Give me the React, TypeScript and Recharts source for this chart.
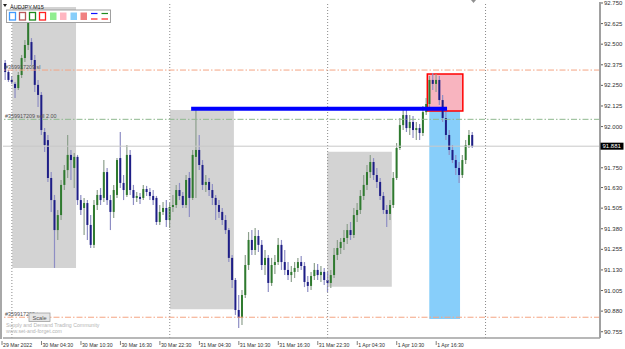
import React from 'react';
import { ComposedChart, Bar, XAxis, YAxis, ReferenceArea, ReferenceLine } from 'recharts';

// AUDJPY M15 (aggregated to 30-minute candles), price values
const opens = [92.343,92.386,92.331,92.283,92.259,92.234,92.313,92.416,92.495,92.513,92.404,92.253,92.192,91.967,91.918,91.688,91.554,91.372,91.463,91.646,91.736,91.828,91.749,91.816,91.554,91.506,91.536,91.403,91.282,91.524,91.585,91.567,91.724,91.554,91.482,91.585,91.809,91.658,91.585,91.828,91.615,91.567,91.573,91.567,91.621,91.603,91.579,91.567,91.421,91.482,91.506,91.433,91.512,91.524,91.615,91.579,91.524,91.688,91.567,91.816,91.858,91.767,91.646,91.664,91.615,91.567,91.524,91.482,91.433,91.372,91.203,91.069,90.887,90.839,90.978,91.160,91.312,91.251,91.336,91.282,91.160,91.203,91.051,91.160,91.178,91.282,91.178,91.130,91.099,91.118,91.142,91.178,91.154,91.057,91.033,91.093,91.130,91.099,91.118,91.069,91.051,91.099,91.221,91.263,91.300,91.324,91.372,91.342,91.463,91.494,91.579,91.646,91.724,91.785,91.706,91.664,91.579,91.494,91.470,91.524,91.688,91.870,92.009,92.070,91.991,92.028,91.979,91.991,91.961,92.088,92.137,92.283,92.259,92.283,92.161,92.052,91.949,91.858,91.797,91.749,91.706,91.797,91.888,91.949];
const highs = [92.416,92.404,92.343,92.307,92.271,92.331,92.435,92.525,92.659,92.537,92.435,92.283,92.210,91.991,91.949,91.724,91.585,91.494,91.676,91.767,91.949,91.858,91.840,91.828,91.585,91.567,91.554,91.463,91.554,91.615,91.627,91.797,91.749,91.585,91.646,91.809,91.967,91.706,91.888,91.858,91.646,91.603,91.597,91.646,91.640,91.627,91.615,91.579,91.524,91.542,91.554,91.536,91.585,91.646,91.658,91.603,91.706,91.724,91.858,92.101,91.949,91.797,91.706,91.688,91.652,91.585,91.554,91.506,91.463,91.385,91.221,91.081,90.978,91.008,91.221,91.360,91.372,91.385,91.372,91.312,91.251,91.221,91.203,91.221,91.324,91.312,91.251,91.178,91.154,91.178,91.203,91.215,91.178,91.093,91.118,91.172,91.166,91.154,91.142,91.118,91.130,91.263,91.312,91.324,91.372,91.409,91.421,91.506,91.536,91.615,91.706,91.767,91.828,91.809,91.749,91.688,91.603,91.524,91.554,91.724,91.900,92.052,92.119,92.113,92.070,92.064,92.028,92.015,92.125,92.173,92.307,92.325,92.319,92.307,92.192,92.088,91.979,91.888,91.828,91.785,91.828,91.918,91.979,91.967];
const lows = [92.313,92.283,92.271,92.259,92.173,92.222,92.295,92.392,92.465,92.374,92.210,92.119,91.949,91.846,91.664,91.482,91.142,91.312,91.433,91.615,91.688,91.676,91.627,91.524,91.463,91.342,91.312,91.263,91.263,91.494,91.524,91.542,91.524,91.372,91.445,91.567,91.627,91.554,91.573,91.585,91.524,91.542,91.530,91.554,91.579,91.554,91.524,91.403,91.403,91.463,91.391,91.385,91.482,91.506,91.554,91.506,91.506,91.451,91.554,91.567,91.736,91.615,91.603,91.579,91.524,91.433,91.445,91.403,91.348,91.178,91.020,90.857,90.778,90.796,90.960,91.130,91.221,91.221,91.239,91.130,91.099,90.996,91.033,91.105,91.160,91.130,91.099,91.069,91.057,91.081,91.118,91.130,91.026,90.996,91.008,91.069,91.069,91.057,91.039,90.996,91.020,91.081,91.190,91.227,91.251,91.288,91.312,91.324,91.421,91.470,91.554,91.615,91.688,91.676,91.627,91.554,91.470,91.391,91.433,91.506,91.676,91.858,91.979,91.967,91.949,91.930,91.918,91.918,91.943,92.070,92.113,92.222,92.210,92.131,92.028,91.918,91.828,91.779,91.706,91.658,91.688,91.773,91.870,91.870];
const closes = [92.392,92.331,92.283,92.271,92.234,92.313,92.416,92.495,92.635,92.404,92.253,92.192,91.979,91.888,91.688,91.554,91.372,91.463,91.646,91.736,91.828,91.797,91.816,91.554,91.494,91.536,91.403,91.282,91.524,91.585,91.554,91.724,91.554,91.482,91.615,91.797,91.658,91.615,91.828,91.615,91.567,91.579,91.561,91.621,91.603,91.579,91.554,91.421,91.482,91.506,91.433,91.512,91.524,91.615,91.579,91.524,91.676,91.567,91.828,91.858,91.767,91.646,91.664,91.615,91.567,91.524,91.482,91.433,91.372,91.203,91.069,90.887,90.839,90.978,91.160,91.312,91.251,91.336,91.282,91.160,91.203,91.051,91.160,91.178,91.282,91.178,91.130,91.099,91.118,91.142,91.178,91.154,91.057,91.033,91.093,91.130,91.099,91.118,91.069,91.051,91.099,91.221,91.263,91.300,91.324,91.372,91.342,91.463,91.494,91.579,91.646,91.724,91.785,91.706,91.664,91.579,91.494,91.470,91.524,91.688,91.870,92.009,92.070,91.991,92.028,91.979,91.991,91.961,92.088,92.137,92.283,92.259,92.283,92.161,92.052,91.949,91.858,91.797,91.749,91.706,91.797,91.888,91.949,91.881];

const xTickIdx = [0, 12, 24, 36, 48, 60, 72, 84, 96, 108, 120, 132];
const xTickLabels = ['29 Mar 2022', '30 Mar 04:30', '30 Mar 10:30', '30 Mar 16:30', '30 Mar 22:30', '31 Mar 04:30', '31 Mar 10:30', '31 Mar 16:30', '31 Mar 22:30', '1 Apr 04:30', '1 Apr 10:30', '1 Apr 16:30'];
const yTicks = [92.75, 92.625, 92.5, 92.375, 92.25, 92.125, 92.0, 91.881, 91.75, 91.63, 91.505, 91.38, 91.255, 91.13, 91.005, 90.88, 90.755];
const currentPrice = 91.881;
const daySeparators = [3, 51, 99, 147];

// supply / demand zones
const zoneX1 = [3.13, 51.08, 98.9];
const zoneX2 = [22.5, 70.5, 118.5];
const zoneTop = [92.726, 92.101, 91.848];
const zoneBottom = [91.142, 90.891, 91.028];

// trade objects
const tradeLevels = { sl: 92.343, entry: 92.044, tp: 90.843 };
const levelTexts = ['#359917209 sl', '#359917209 sell 2.00', '#359917209 tp'];
const redBox = { x1: 129.3, x2: 140.1, y1: 92.094, y2: 92.319 };
const blueBox = { x1: 129.9, x2: 139.25, y1: 90.832, y2: 92.094 };
const blueLine = { x1: 57.5, x2: 135.3, y: 92.108 };

const data = opens.map((o, i) => ({ i, o, h: highs[i], l: lows[i], c: closes[i], range: [lows[i], highs[i]] }));

const FONT = 'Liberation Sans, Arial, sans-serif';

const Candle = (props: any) => {
  const { x, y, width, height, payload } = props;
  if (!payload) return null;
  const { o, h, l, c } = payload;
  const top = Math.min(y, y + height);
  const bot = Math.max(y, y + height);
  const span = h - l || 1;
  const py = (v: number) => top + ((h - v) / span) * (bot - top);
  const cx = x + width / 2;
  const up = c >= o;
  const bt = py(Math.max(o, c));
  const bb = py(Math.min(o, c));
  return (
    <g>
      <line x1={cx} x2={cx} y1={top} y2={bot} stroke={up ? '#8da08d' : '#8e8ec4'} strokeWidth={1.2} />
      <rect x={cx - 1} y={bt} width={2} height={Math.max(1, bb - bt)} fill={up ? '#2f7a2f' : '#1e1e86'} />
    </g>
  );
};

const XTick = (props: any) => {
  const { x, y, payload } = props;
  const k = xTickIdx.indexOf(payload.value);
  return (
    <g>
      <line x1={x} x2={x} y1={y - 3} y2={y + 1} stroke="#808080" strokeWidth={1} />
      <text x={x + 1} y={y + 3.2} fontSize={5.2} fontFamily={FONT} fill="#303030">{xTickLabels[k]}</text>
    </g>
  );
};

const YTick = (props: any) => {
  const { y, payload } = props;
  const v = payload.value;
  if (v === currentPrice) {
    return (
      <g>
        <rect x={600.5} y={y - 3.5} width={23} height={7} fill="#000" />
        <text x={602.5} y={y + 2.1} fontSize={6} fontFamily={FONT} fill="#fff">{v.toFixed(3)}</text>
      </g>
    );
  }
  return (
    <g>
      <line x1={601} x2={603} y1={y} y2={y} stroke="#606060" strokeWidth={1} />
      <text x={604} y={y + 2.1} fontSize={6} fontFamily={FONT} fill="#303030">{v.toFixed(3)}</text>
    </g>
  );
};

const levelLabel = (text: string) => (p: any) => {
  const vb = p.viewBox || {};
  return (
    <text x={5} y={(vb.y ?? 0) - 1.5} fontSize={5.4} fontFamily={FONT} fill="#505050">{text}</text>
  );
};

export default function App() {
  return (
    <div style={{ position: 'absolute', left: 0, top: 0, width: 625, height: 349, background: '#fff' }}>
      <ComposedChart width={625} height={349} data={data} margin={{ top: 2, right: 0, bottom: 0, left: 3 }}>
        <XAxis type="number" dataKey="i" domain={[0.3, 181.8]} ticks={xTickIdx} tick={<XTick />} tickLine={false}
          axisLine={{ stroke: '#a0a0a0', strokeWidth: 1.5 }} height={11} allowDataOverflow interval={0} tickMargin={0} />
        <YAxis orientation="right" type="number" domain={[90.717, 92.756]} ticks={yTicks} tick={<YTick />} tickLine={false}
          axisLine={{ stroke: '#a0a0a0', strokeWidth: 2 }} width={25} allowDataOverflow interval={0} tickMargin={0} />
        {zoneX1.map((x1, k) => (
          <ReferenceArea key={'z' + k} x1={x1} x2={zoneX2[k]} y1={zoneBottom[k]} y2={zoneTop[k]} fill="#d3d3d3" fillOpacity={1} stroke="none" ifOverflow="hidden" />
        ))}
        <ReferenceArea x1={blueBox.x1} x2={blueBox.x2} y1={blueBox.y1} y2={blueBox.y2} fill="#87cefa" fillOpacity={1} stroke="none" />
        <ReferenceArea x1={redBox.x1} x2={redBox.x2} y1={redBox.y1} y2={redBox.y2} fill="#f8b4bf" fillOpacity={1} stroke="#ff0000" strokeWidth={1.5} />
        {daySeparators.map((d) => (
          <ReferenceLine key={'d' + d} x={d} stroke="#8a8a8a" strokeDasharray="1 2" strokeWidth={1} />
        ))}
        <ReferenceLine y={currentPrice} stroke="#c8c8c8" strokeWidth={1} />
        <ReferenceLine y={tradeLevels.sl} stroke="#f4a583" strokeDasharray="6 2 1.5 2" strokeWidth={1} label={levelLabel(levelTexts[0])} />
        <ReferenceLine y={tradeLevels.entry} stroke="#8fb88f" strokeDasharray="6 2 1.5 2" strokeWidth={1} label={levelLabel(levelTexts[1])} />
        <ReferenceLine y={tradeLevels.tp} stroke="#f4a583" strokeDasharray="6 2 1.5 2" strokeWidth={1} label={levelLabel(levelTexts[2])} />
        <Bar dataKey="range" barSize={3} shape={<Candle />} isAnimationActive={false} />
        <ReferenceLine segment={[{ x: blueLine.x1, y: blueLine.y }, { x: blueLine.x2, y: blueLine.y }]} stroke="#0000ff" strokeWidth={4} />
      </ComposedChart>
      <svg width={625} height={349} style={{ position: 'absolute', left: 0, top: 0, pointerEvents: 'none' }}>
        <rect x={0} y={0} width={2} height={339} fill="#a8a8a8" />
        <path d="M3,4 L7,4 L5,7 Z" fill="#202020" />
        <text x={10} y={8.5} fontSize={5.6} fontFamily={FONT} fill="#202020">AUDJPY,M15</text>
        <path d="M471,0 L476,0 L473.5,3 Z" fill="#909090" />
        <rect x={6.5} y={10} width={104} height={12.5} fill="#fff" stroke="#a0a0a0" strokeWidth={1} />
        <rect x={9.5} y={12.5} width={6} height={7.5} fill="#fff" stroke="#3f9bff" strokeWidth={1.3} />
        <rect x={19.5} y={12.5} width={6} height={7.5} fill="#fff" stroke="#b85a5a" strokeWidth={1.3} />
        <rect x={29.5} y={12.5} width={6} height={7.5} fill="#fff" stroke="#1f8a1f" strokeWidth={1.3} />
        <rect x={39.5} y={12.5} width={6} height={7.5} fill="#fff" stroke="#ff2020" strokeWidth={1.3} />
        <rect x={50} y={12.5} width={6.5} height={7.5} fill="#90ee90" />
        <rect x={60} y={12.5} width={6.5} height={7.5} fill="#ffb6c1" />
        <rect x={70.5} y={12.5} width={6.5} height={7.5} fill="#87cefa" />
        <rect x={80.5} y={12.5} width={6.5} height={7.5} fill="#f08080" />
        <line x1={91} x2={97.5} y1={13.5} y2={13.5} stroke="#1010ff" strokeWidth={1.2} />
        <line x1={91} x2={97.5} y1={19} y2={19} stroke="#ff2020" strokeWidth={1.2} />
        <line x1={101.5} x2={108} y1={13.5} y2={13.5} stroke="#1f8a1f" strokeWidth={1.2} />
        <line x1={101.5} x2={108} y1={19} y2={19} stroke="#ff2020" strokeWidth={1.2} />
        <rect x={29} y={313} width={21} height={8.5} fill="#e6e6e6" stroke="#a0a0a0" strokeWidth={0.8} />
        <text x={39.5} y={319.6} fontSize={5.6} fontFamily={FONT} fill="#505050" textAnchor="middle">Scale</text>
        <text x={6} y={327} fontSize={5.2} fontFamily={FONT} fill="#b4b4b4">Supply and Demand Trading Community</text>
        <text x={6} y={333} fontSize={5.2} fontFamily={FONT} fill="#b4b4b4">www.set-and-forget.com</text>
      </svg>
    </div>
  );
}
